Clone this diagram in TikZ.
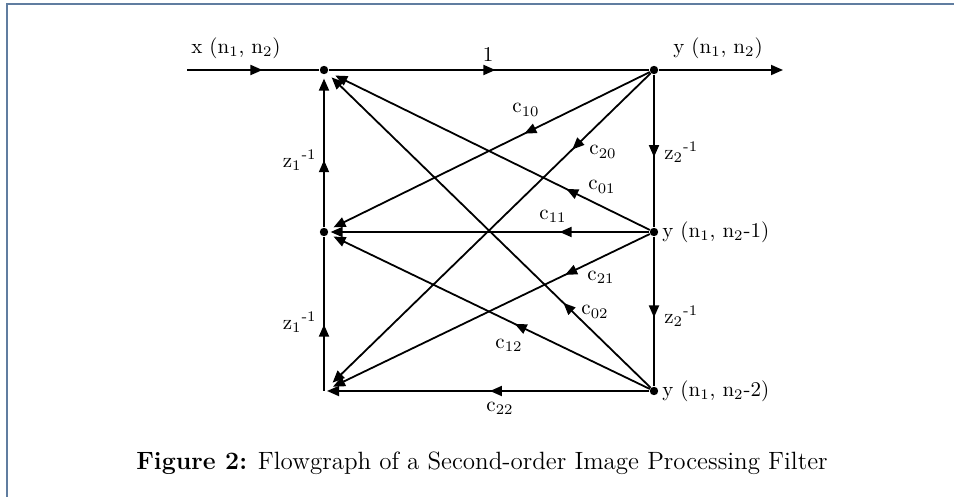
\documentclass[tikz,border=0pt]{standalone}
\usepackage{tikz}
\usetikzlibrary{arrows.meta,decorations.markings}
\definecolor{framegray}{RGB}{96,125,160}

\tikzset{
  dot/.style={circle,fill=black,inner sep=0pt,minimum size=4.2pt},
  branch/.style={line width=0.9pt},
  midtip/.style={postaction={decorate},decoration={markings,mark=at position #1 with {\arrow{Triangle[length=6pt,width=5pt]}}}},
  lbl/.style={font=\fontsize{10.5}{12}\selectfont,inner sep=1pt},
}

\begin{document}
\begin{tikzpicture}[x=0.5pt,y=-0.5pt,>={Triangle[length=6pt,width=5pt]}]
  \useasboundingbox (0,0) rectangle (954,497);
  \draw[framegray,line width=1.1pt] (7,497)--(7,4)--(954,4);
  % the six summing points
  \node[dot] (l0) at (324,70) {};
  \node[dot] (l1) at (324,232) {};
  \coordinate (l2) at (324,391);
  \node[dot] (r0) at (654,70) {};
  \node[dot] (r1) at (654,232) {};
  \node[dot] (r2) at (654,391) {};
  \coordinate (xin) at (187,70);
  \coordinate (yout) at (783,70);
  % input, output and delays
  \draw[branch,midtip=0.57] (xin) -- (l0);
  \draw[branch,midtip=0.52] (l0) -- (r0);
  \draw[branch,->] (r0) -- (yout);
  \draw[branch,midtip=0.54] (r0) -- (r1);
  \draw[branch,midtip=0.54] (r1) -- (r2);
  \draw[branch,midtip=0.43] (l2) -- (l1);
  \draw[branch,->,shorten >=2pt,midtip=0.44] (l1) -- (l0);
  % coefficient branches
  \draw[branch,->,shorten >=3pt,midtip=0.39] (r0) -- (l1);
  \draw[branch,->,shorten >=6pt,midtip=0.24] (r0) -- (l2);
  \draw[branch,->,shorten >=4pt,midtip=0.26] (r1) -- (l0);
  \draw[branch,->,shorten >=1pt,midtip=0.28] (r1) -- (l1);
  \draw[branch,->,shorten >=5pt,midtip=0.26] (r1) -- (l2);
  \draw[branch,->,shorten >=3pt,midtip=0.27] (r2) -- (l0);
  \draw[branch,->,shorten >=3pt,midtip=0.42] (r2) -- (l1);
  \draw[branch,->,shorten >=1.5pt,midtip=0.49] (r2) -- (l2);
  % labels
  \node[lbl] (tx) at (236,48) {x (n\textsubscript{1}, n\textsubscript{2})};
  \node[lbl] (tone) at (488,55) {1};
  \node[lbl] (ty0) at (718,48) {y (n\textsubscript{1}, n\textsubscript{2})};
  \node[lbl,anchor=west] (ty1) at (660,232) {y (n\textsubscript{1}, n\textsubscript{2}-1)};
  \node[lbl,anchor=west] (ty2) at (660,391) {y (n\textsubscript{1}, n\textsubscript{2}-2)};
  \node[lbl,anchor=west] (tz20) at (662,152) {z\textsubscript{2}\textsuperscript{-1}};
  \node[lbl,anchor=west] (tz21) at (662,316) {z\textsubscript{2}\textsuperscript{-1}};
  \node[lbl,anchor=east] (tz10) at (319,160) {z\textsubscript{1}\textsuperscript{-1}};
  \node[lbl,anchor=east] (tz11) at (319,322) {z\textsubscript{1}\textsuperscript{-1}};
  \node[lbl] (tc10) at (526,110) {c\textsubscript{10}};
  \node[lbl] (tc20) at (603,152) {c\textsubscript{20}};
  \node[lbl] (tc01) at (602,187) {c\textsubscript{01}};
  \node[lbl] (tc11) at (553,216) {c\textsubscript{11}};
  \node[lbl] (tc21) at (601,277) {c\textsubscript{21}};
  \node[lbl] (tc02) at (595,312) {c\textsubscript{02}};
  \node[lbl] (tc12) at (509,345) {c\textsubscript{12}};
  \node[lbl] (tc22) at (500,408) {c\textsubscript{22}};
  % caption
  \node[font=\fontsize{12.5}{15}\selectfont] (cap) at (482,463) {\textbf{Figure 2:} Flowgraph of a Second-order Image Processing Filter};
\end{tikzpicture}
\end{document}
